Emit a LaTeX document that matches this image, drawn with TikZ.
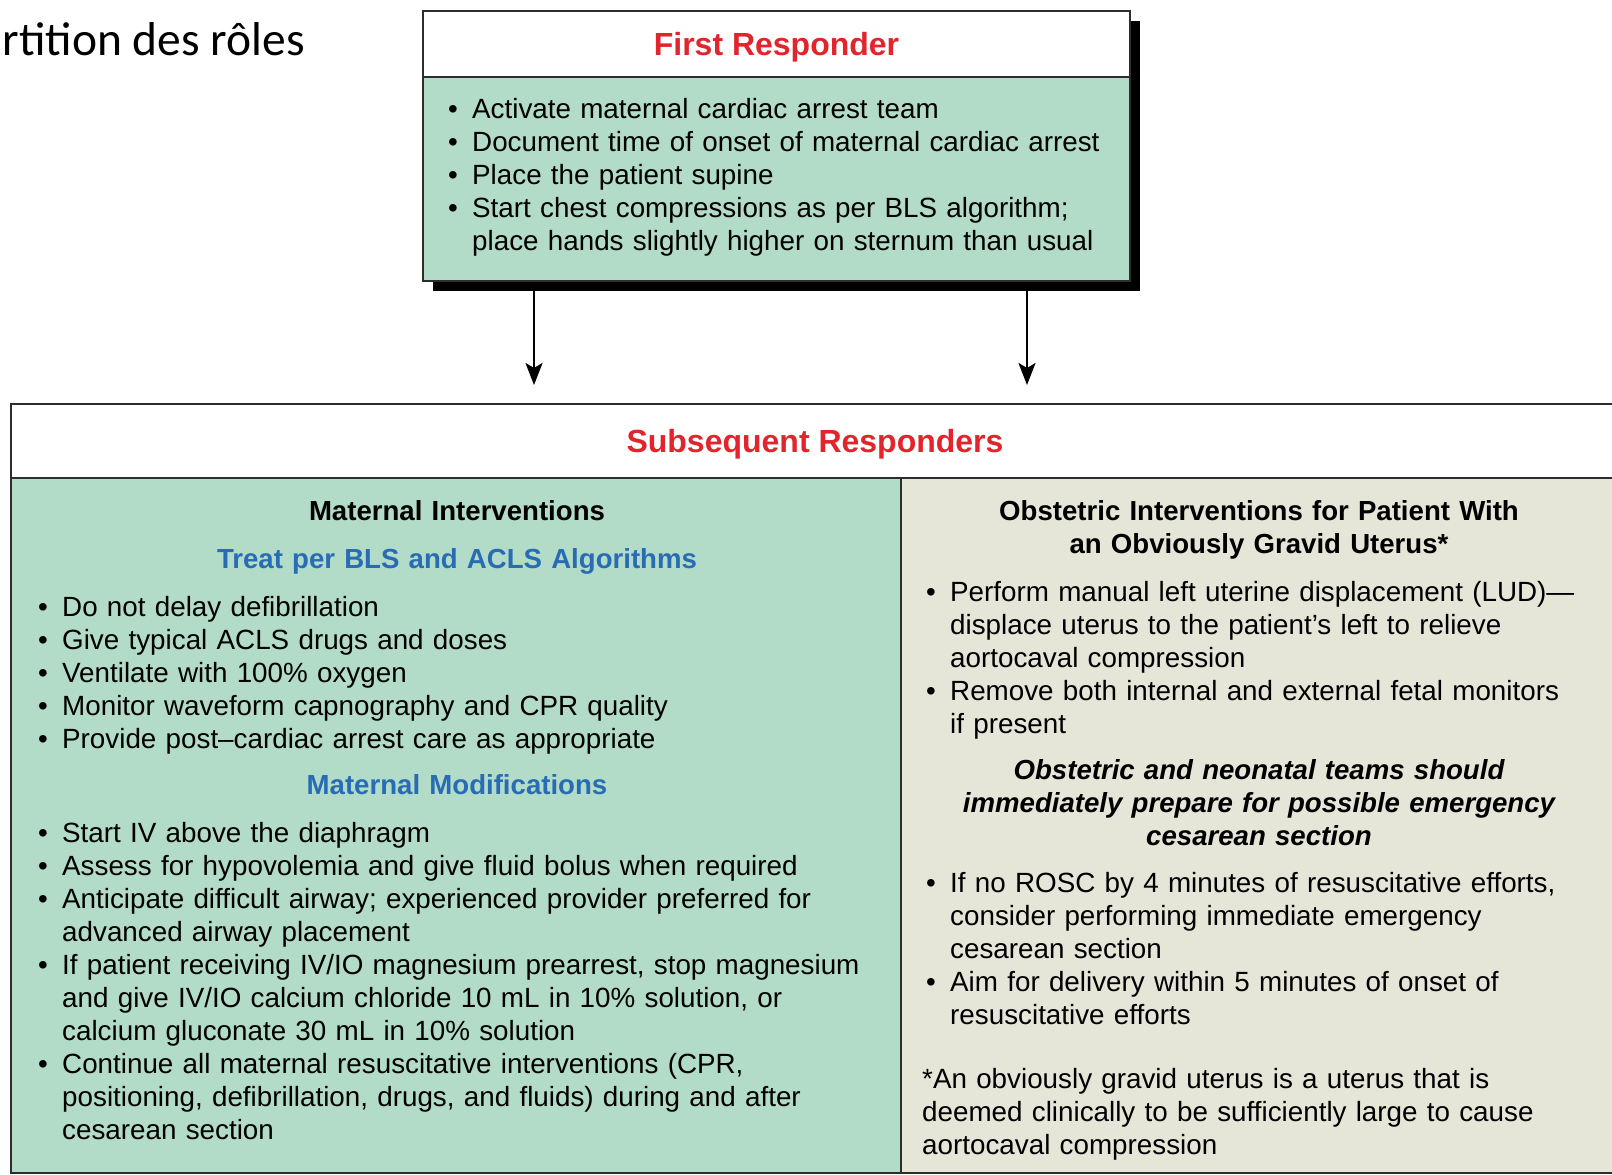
\documentclass[tikz,border=0pt]{standalone}
\usepackage{fontspec}
\setmainfont{Liberation Sans}
\newfontfamily\slidefont{Carlito}
\usetikzlibrary{arrows.meta, positioning, shadows}

\definecolor{mint}{RGB}{178,219,200}
\definecolor{beige}{RGB}{229,229,216}
\definecolor{hdred}{RGB}{226,36,44}
\definecolor{hdblue}{RGB}{40,108,180}
\definecolor{edge}{RGB}{45,45,45}

% one bullet, continuation lines hang under the text
\newcommand{\bitem}[1]{\noindent\hangindent=24pt\hangafter=1\makebox[24pt][l]{\textbullet}#1\par}

\begin{document}
\begin{tikzpicture}[x=1pt, y=-1pt,
  panel/.style={draw=edge, line width=2pt, inner sep=0pt, anchor=north west},
  headtxt/.style={font=\bfseries\fontsize{32}{38}\selectfont, text=hdred, text depth=0pt},
  subtxt/.style={font=\bfseries\fontsize{27.6}{33}\selectfont, text width=660pt, align=center, anchor=base, inner sep=0pt},
  bodytxt/.style={font=\fontsize{27.8}{33}\selectfont, text width=#1, align=left, anchor=base west, inner sep=0pt},
  arr/.style={-{Stealth[length=22pt, width=17pt, inset=5pt]}, line width=2.4pt}]

\useasboundingbox (0,0) rectangle (1612,1175);

\node[font=\slidefont\fontsize{47.5}{56}\selectfont, anchor=base east, inner sep=0pt] (title) at (305,55) {rtition des rôles};

% first responder
\node[panel, fill=mint, minimum width=707pt, minimum height=270pt,
  drop shadow={shadow xshift=10pt, shadow yshift=-10pt, fill=black, opacity=1}] (frbox) at (422,10) {};
\node[panel, fill=white, headtxt, minimum width=707pt, minimum height=66pt] (frhead) at (422,10) {First Responder};
\node[bodytxt=680pt] (frtext) at (448,118) {%
\bitem{Activate maternal cardiac arrest team}
\bitem{Document time of onset of maternal cardiac arrest}
\bitem{Place the patient supine}
\bitem{Start chest compressions as per BLS algorithm;\newline place hands slightly higher on sternum than usual}};

% subsequent responders
\node[panel, fill=white, headtxt, minimum width=1608pt, minimum height=74pt] (subhead) at (10,403) {Subsequent Responders};
\node[panel, fill=mint, minimum width=890pt, minimum height=695pt] (leftcol) at (10,477) {};
\node[panel, fill=beige, minimum width=718pt, minimum height=695pt] (rightcol) at (900,477) {};

\draw[arr, shorten >=18pt] ([xshift=112pt]frbox.south west) -- ([xshift=112pt]frbox.south west |- subhead.north);
\draw[arr, shorten >=18pt] ([xshift=-104pt]frbox.south east) -- ([xshift=-104pt]frbox.south east |- subhead.north);

% maternal column
\node[subtxt] (matint) at (457,520) {Maternal Interventions};
\node[subtxt, text=hdblue] (treat) at (457,568) {Treat per BLS and ACLS Algorithms};
\node[bodytxt=860pt] (treatlist) at (38,616) {%
\bitem{Do not delay defibrillation}
\bitem{Give typical ACLS drugs and doses}
\bitem{Ventilate with 100\% oxygen}
\bitem{Monitor waveform capnography and CPR quality}
\bitem{Provide post–cardiac arrest care as appropriate}};
\node[subtxt, text=hdblue] (matmod) at (457,794) {Maternal Modifications};
\node[bodytxt=860pt] (modlist) at (38,842) {%
\bitem{Start IV above the diaphragm}
\bitem{Assess for hypovolemia and give fluid bolus when required}
\bitem{Anticipate difficult airway; experienced provider preferred for\newline advanced airway placement}
\bitem{If patient receiving IV/IO magnesium prearrest, stop magnesium\newline and give IV/IO calcium chloride 10 mL in 10\% solution, or\newline calcium gluconate 30 mL in 10\% solution}
\bitem{Continue all maternal resuscitative interventions (CPR,\newline positioning, defibrillation, drugs, and fluids) during and after\newline cesarean section}};

% obstetric column
\node[subtxt] (obsint) at (1259,520) {Obstetric Interventions for Patient With\\an Obviously Gravid Uterus*};
\node[bodytxt=686pt] (obslist) at (926,601) {%
\bitem{Perform manual left uterine displacement (LUD)—\newline displace uterus to the patient’s left to relieve\newline aortocaval compression}
\bitem{Remove both internal and external fetal monitors\newline if present}};
\node[subtxt, font=\bfseries\itshape\fontsize{27.6}{33}\selectfont] (teams) at (1259,779) {Obstetric and neonatal teams should\\immediately prepare for possible emergency\\cesarean section};
\node[bodytxt=686pt] (cslist) at (926,892) {%
\bitem{If no ROSC by 4 minutes of resuscitative efforts,\newline consider performing immediate emergency\newline cesarean section}
\bitem{Aim for delivery within 5 minutes of onset of\newline resuscitative efforts}};
\node[bodytxt=686pt] (note) at (922,1088) {*An obviously gravid uterus is a uterus that is\\deemed clinically to be sufficiently large to cause\\aortocaval compression};

\end{tikzpicture}
\end{document}
